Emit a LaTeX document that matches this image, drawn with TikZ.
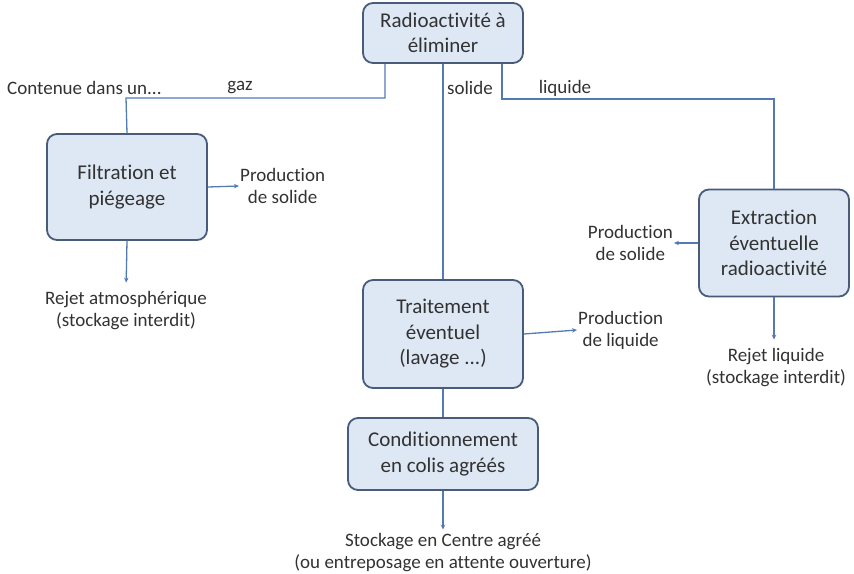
\documentclass[tikz,border=0pt]{standalone}
\usepackage{fontspec}
\setmainfont{Carlito}[Ligatures=NoCommon]
\usetikzlibrary{arrows.meta}
\definecolor{bleuclair}{RGB}{222,232,245}
\definecolor{bleubord}{RGB}{72,92,122}
\definecolor{bleutrait}{RGB}{84,122,178}
\definecolor{texte}{RGB}{50,50,50}
\tikzstyle{etape} = [draw=bleubord, fill=bleuclair, line width=1.8pt, rectangle, rounded corners=10pt, align=center, font=\fontsize{21}{25.5}\selectfont, text=texte]
\tikzstyle{etiquette} = [align=center, font=\fontsize{19}{22}\selectfont, text=texte, inner sep=1pt]
\tikzstyle{trait} = [draw=bleutrait, line width=1.3pt]
\tikzstyle{fleche} = [trait, -{Stealth[length=5pt,width=4.5pt]}]

\begin{document}
\begin{tikzpicture}[x=1pt, y=-1pt]
	\useasboundingbox (0,0) rectangle (854,573);
	% les etapes
	\node[etape, minimum width=160pt, minimum height=60pt](radio) at (443,33) {Radioactivité à\\éliminer};
	\node[etape, minimum width=160pt, minimum height=106pt](filtr) at (127,187) {Filtration et\\piégeage};
	\node[etape, minimum width=150pt, minimum height=107pt](extr) at (774,243) {Extraction\\éventuelle\\radioactivité};
	\node[etape, minimum width=160pt, minimum height=108pt](traitem) at (443,334) {Traitement\\éventuel\\(lavage ...)};
	\node[etape, minimum width=190pt, minimum height=72pt](condi) at (443,454) {Conditionnement\\en colis agréés};
	% les textes
	\node[etiquette, anchor=west](contenue) at (6,88) {Contenue dans un...};
	\node[etiquette](gaz) at (240,88) {gaz};
	\node[etiquette, anchor=west](solide) at (446,88) {solide};
	\node[etiquette](liquide) at (565,88) {liquide};
	\node[etiquette, anchor=west](prodsolg) at (239,186) {Production\\de solide};
	\node[etiquette](rejetatm) at (126,311) {Rejet atmosphérique\\(stockage interdit)};
	\node[etiquette, anchor=east](prodsold) at (674,243) {Production\\de solide};
	\node[etiquette](rejetliq) at (776,368) {Rejet liquide\\(stockage interdit)};
	\node[etiquette, anchor=west](prodliq) at (577,330) {Production\\de liquide};
	\node[etiquette](stockage) at (443,553) {Stockage en Centre agréé\\(ou entreposage en attente ouverture)};
	% les liaisons
	\coordinate (coudegaz) at (126,98);
	\coordinate (coudeliq) at (774,99);
	\draw[trait] ([xshift=-58pt]radio.south) |- (coudegaz) -- (filtr.north);
	\draw[trait] ([xshift=59pt]radio.south) |- (coudeliq) -- (extr.north);
	\draw[trait] (radio.south) -- (traitem.north);
	\draw[trait] (traitem.south) -- (condi.north);
	\draw[fleche] (filtr.east) -- (prodsolg.west);
	\draw[fleche, shorten >=8pt] (filtr.south) -- (rejetatm.north);
	\draw[fleche] (extr.west) -- (prodsold.east);
	\draw[fleche, shorten >=8pt] (extr.south) -- (extr.south |- rejetliq.north);
	\draw[fleche] (traitem.east) -- (prodliq.west);
	\draw[fleche, shorten >=3pt] (condi.south) -- (stockage.north);
\end{tikzpicture}
\end{document}
